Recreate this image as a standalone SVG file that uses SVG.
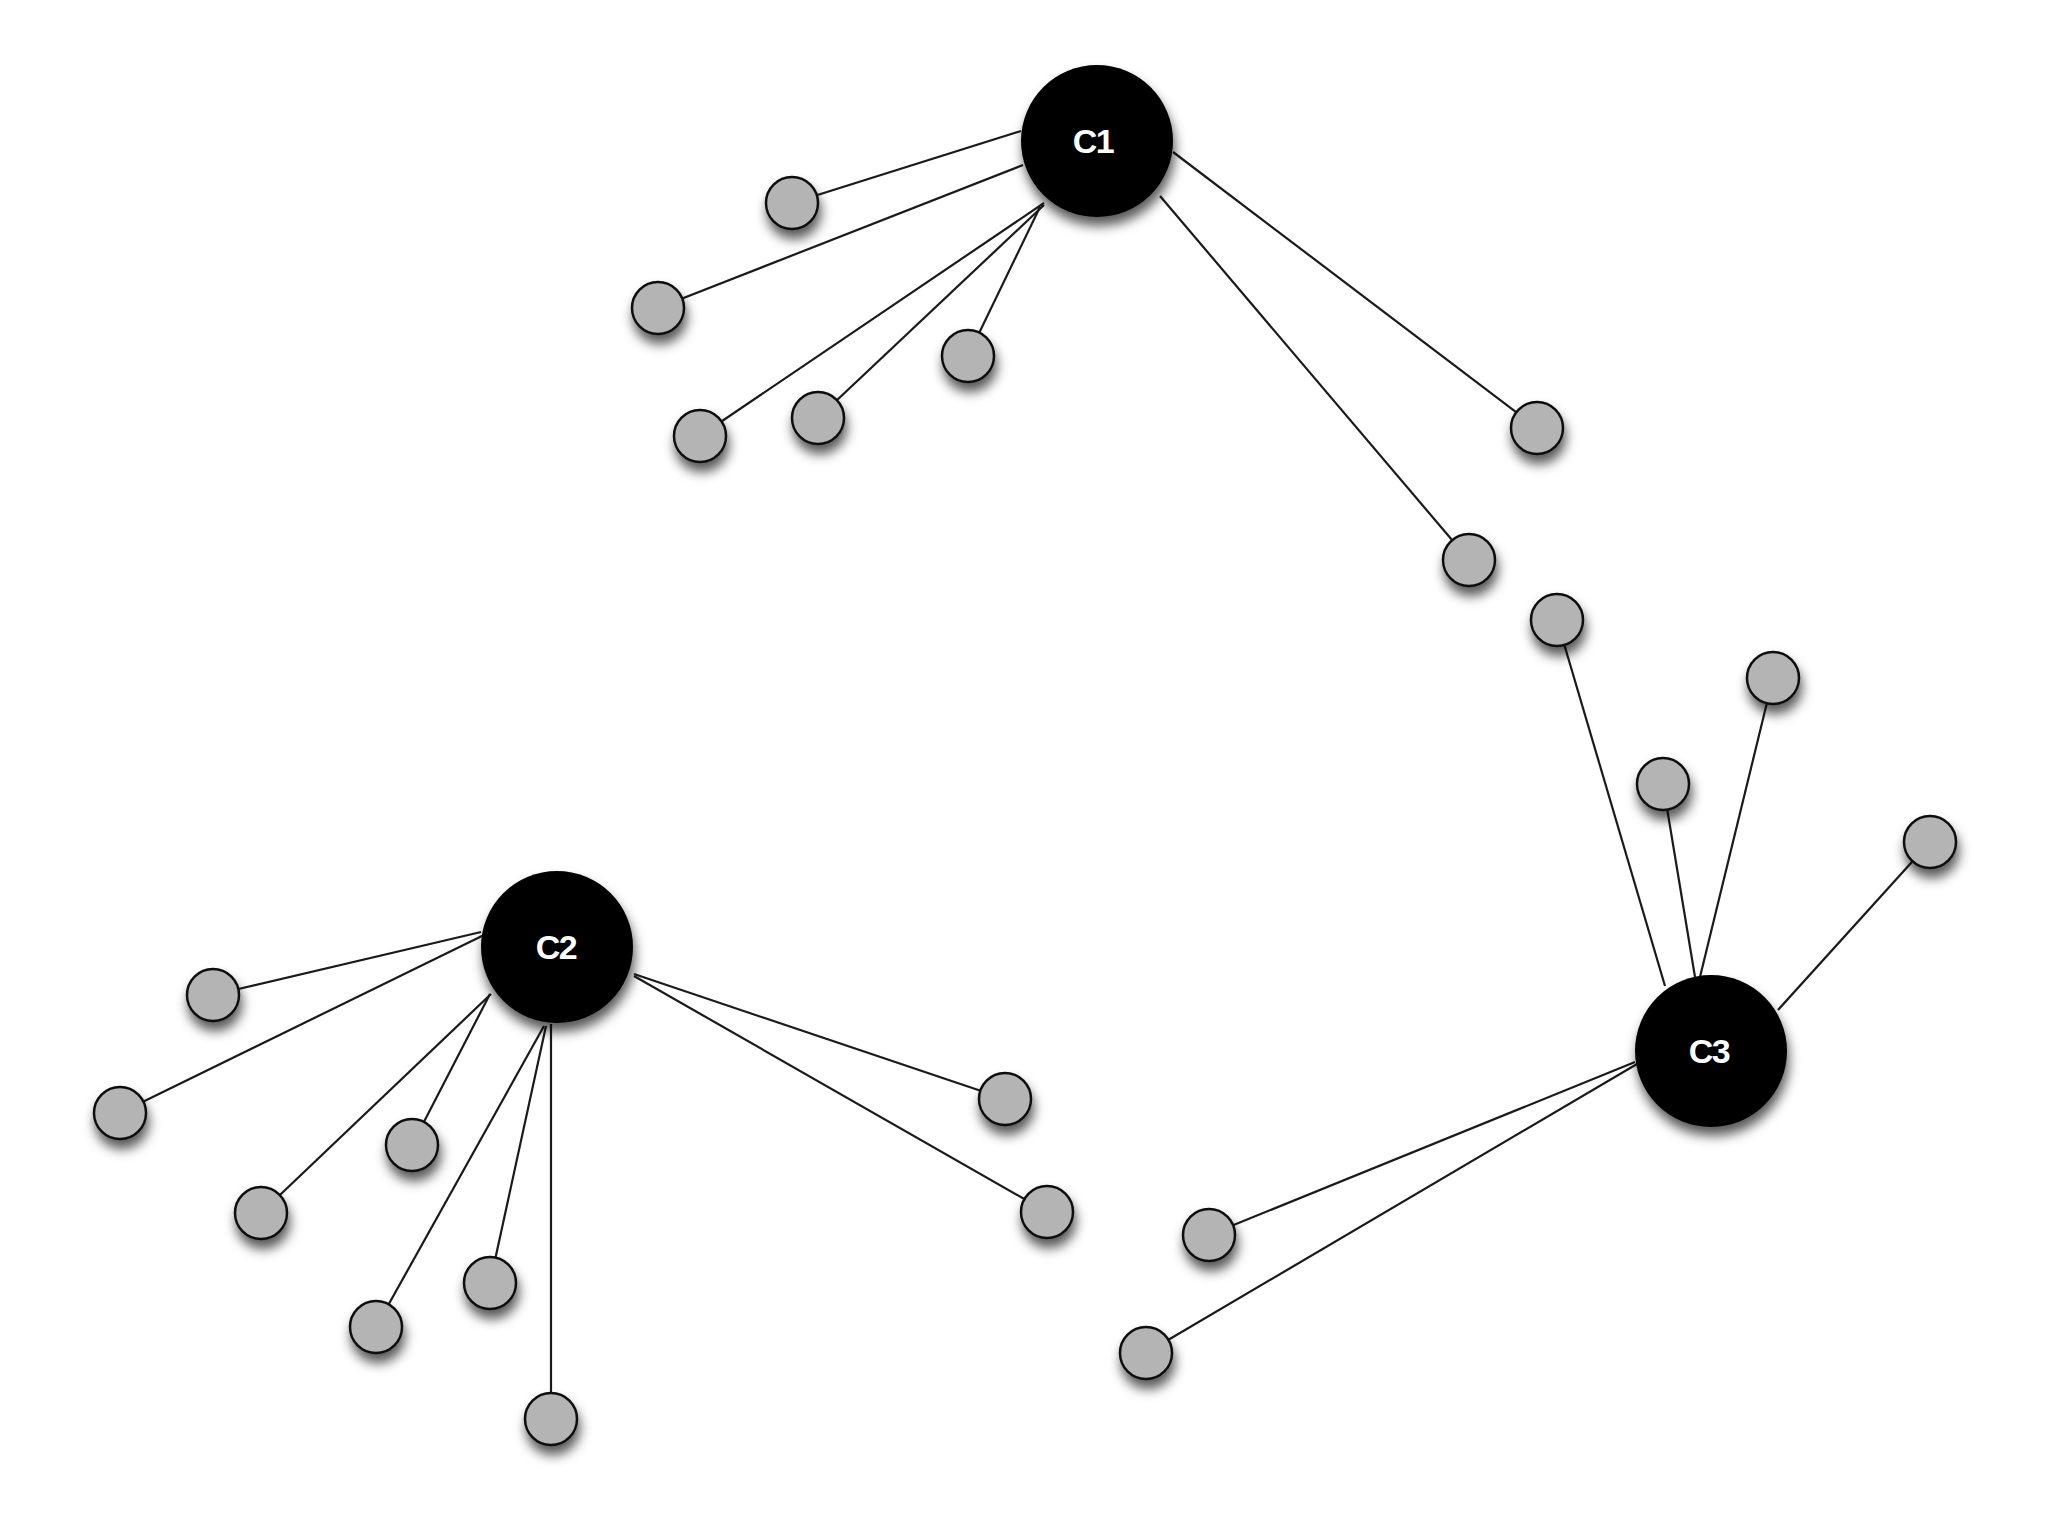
<svg xmlns="http://www.w3.org/2000/svg" width="2048" height="1536" viewBox="0 0 2048 1536">
<defs>
<filter id="sh" x="-50%" y="-50%" width="200%" height="200%">
<feDropShadow dx="2" dy="9" stdDeviation="6" flood-color="#000" flood-opacity="0.65"/>
</filter>
<style>
.edge{stroke:#1a1a1a;stroke-width:2.2;fill:none}
.leaf{fill:#b4b4b4;stroke:#111;stroke-width:2.5;filter:url(#sh)}
.hub{fill:#000;filter:url(#sh)}
.lbl{fill:#fff;font-family:"Liberation Sans",Arial,sans-serif;font-size:34px;font-weight:bold;text-anchor:middle;letter-spacing:-1.5px}
</style>
</defs>
<rect width="2048" height="1536" fill="#fff"/>
<g id="connectors">
<line class="edge" x1="1021" y1="131" x2="792" y2="203"/>
<line class="edge" x1="1023" y1="165" x2="658" y2="308"/>
<line class="edge" x1="1044" y1="203" x2="700" y2="436"/>
<line class="edge" x1="1044" y1="205" x2="818" y2="418"/>
<line class="edge" x1="1040" y1="207" x2="968" y2="356"/>
<line class="edge" x1="1173" y1="152" x2="1537" y2="428"/>
<line class="edge" x1="1160" y1="196" x2="1469" y2="560"/>
<line class="edge" x1="1665" y1="986" x2="1557" y2="620"/>
<line class="edge" x1="1695" y1="977" x2="1663" y2="784"/>
<line class="edge" x1="1700" y1="977" x2="1773" y2="678"/>
<line class="edge" x1="1778" y1="1010" x2="1930" y2="842"/>
<line class="edge" x1="1635" y1="1062" x2="1209" y2="1235"/>
<line class="edge" x1="1637" y1="1064" x2="1146" y2="1353"/>
<line class="edge" x1="481" y1="932" x2="213" y2="995"/>
<line class="edge" x1="484" y1="935" x2="120" y2="1113"/>
<line class="edge" x1="491" y1="994" x2="261" y2="1213"/>
<line class="edge" x1="490" y1="994" x2="412" y2="1145"/>
<line class="edge" x1="544" y1="1026" x2="376" y2="1327"/>
<line class="edge" x1="546" y1="1026" x2="490" y2="1283"/>
<line class="edge" x1="551" y1="1024" x2="551" y2="1419"/>
<line class="edge" x1="634" y1="974" x2="1005" y2="1099"/>
<line class="edge" x1="634" y1="976" x2="1047" y2="1212"/>
</g>
<g id="C1"><circle class="hub" cx="1097" cy="141" r="76"/><text class="lbl" x="1093" y="153">C1</text></g>
<g id="C2"><circle class="hub" cx="557" cy="947" r="76"/><text class="lbl" x="556" y="959">C2</text></g>
<g id="C3"><circle class="hub" cx="1711" cy="1051" r="76"/><text class="lbl" x="1709" y="1063">C3</text></g>
<g id="n1"><circle class="leaf" cx="792" cy="203" r="26"/></g>
<g id="n2"><circle class="leaf" cx="658" cy="308" r="26"/></g>
<g id="n3"><circle class="leaf" cx="700" cy="436" r="26"/></g>
<g id="n4"><circle class="leaf" cx="818" cy="418" r="26"/></g>
<g id="n5"><circle class="leaf" cx="968" cy="356" r="26"/></g>
<g id="n6"><circle class="leaf" cx="1537" cy="428" r="26"/></g>
<g id="n7"><circle class="leaf" cx="1469" cy="560" r="26"/></g>
<g id="n8"><circle class="leaf" cx="1557" cy="620" r="26"/></g>
<g id="n9"><circle class="leaf" cx="1773" cy="678" r="26"/></g>
<g id="n10"><circle class="leaf" cx="1663" cy="784" r="26"/></g>
<g id="n11"><circle class="leaf" cx="1930" cy="842" r="26"/></g>
<g id="n12"><circle class="leaf" cx="1209" cy="1235" r="26"/></g>
<g id="n13"><circle class="leaf" cx="1146" cy="1353" r="26"/></g>
<g id="n14"><circle class="leaf" cx="213" cy="995" r="26"/></g>
<g id="n15"><circle class="leaf" cx="120" cy="1113" r="26"/></g>
<g id="n16"><circle class="leaf" cx="412" cy="1145" r="26"/></g>
<g id="n17"><circle class="leaf" cx="261" cy="1213" r="26"/></g>
<g id="n18"><circle class="leaf" cx="490" cy="1283" r="26"/></g>
<g id="n19"><circle class="leaf" cx="376" cy="1327" r="26"/></g>
<g id="n20"><circle class="leaf" cx="551" cy="1419" r="26"/></g>
<g id="n21"><circle class="leaf" cx="1005" cy="1099" r="26"/></g>
<g id="n22"><circle class="leaf" cx="1047" cy="1212" r="26"/></g>
</svg>
